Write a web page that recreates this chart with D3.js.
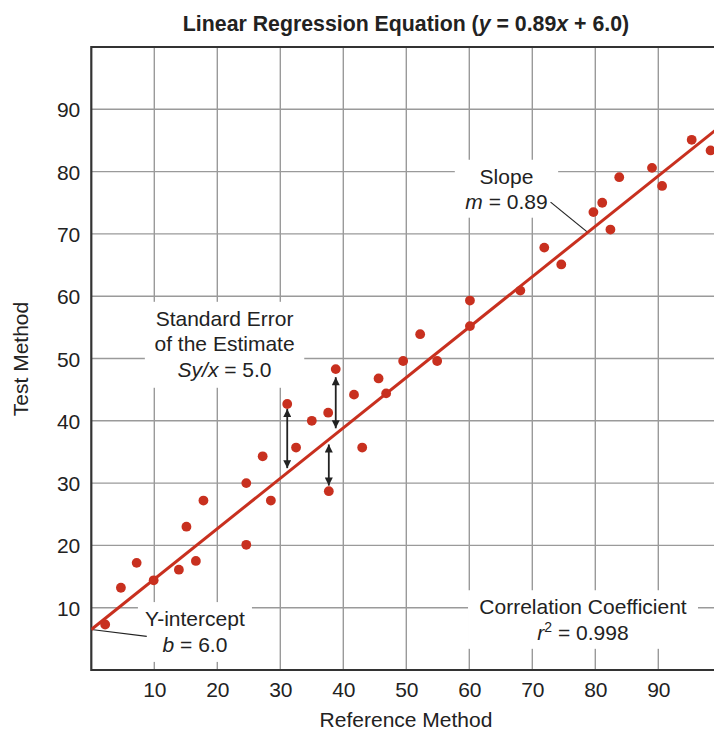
<!DOCTYPE html>
<html>
<head>
<meta charset="utf-8">
<script src="https://cdn.jsdelivr.net/npm/d3@7"></script>
<style>
  html, body { margin: 0; padding: 0; background: #fff; }
  svg { display: block; font-family: "Liberation Sans", Arial, Helvetica, sans-serif; }
</style>
</head>
<body>
<div id="chart"></div>
<script>
// ---- data ----
const refX = [2.2, 4.7, 7.2, 9.9, 13.9, 15.1, 16.6, 17.8, 24.6, 24.6, 27.2, 28.5, 31.1, 32.5, 35.0, 37.6, 37.7, 38.8, 41.7, 43.0, 45.6, 46.8, 49.5, 52.2, 54.9, 60.1, 60.1, 68.1, 71.9, 74.6, 79.7, 81.1, 82.4, 83.8, 89.0, 90.6, 95.3, 98.3];
const testY = [7.3, 13.2, 17.2, 14.4, 16.1, 23.0, 17.5, 27.2, 30.0, 20.1, 34.3, 27.2, 42.7, 35.7, 40.0, 41.3, 28.7, 48.3, 44.2, 35.7, 46.8, 44.4, 49.6, 53.9, 49.6, 59.3, 55.2, 60.9, 67.8, 65.1, 73.5, 75.0, 70.7, 79.1, 80.6, 77.7, 85.1, 83.4];
const xTicks = [10, 20, 30, 40, 50, 60, 70, 80, 90];
const yTicks = [10, 20, 30, 40, 50, 60, 70, 80, 90];
// regression line as drawn (endpoints, data units)
const fitX = [0, 100];
const fitY = [6.5, 87.4];
// residual arrows: x, y from, y to
const arrowX = [31.1, 38.8, 37.7];
const arrowY1 = [41.9, 47.0, 36.2];
const arrowY2 = [32.4, 38.8, 29.6];

const titleText = "Linear Regression Equation";
const xTitle = "Reference Method";
const yTitle = "Test Method";

// ---- layout ----
const W = 714, H = 730;
const x = d3.scaleLinear().domain([0, 100]).range([91.3, 721.3]);
const y = d3.scaleLinear().domain([0, 100]).range([670, 47]);
const RED = "#c8301f";
const INK = "#222";
const FS = 21;

const svg = d3.select("#chart").append("svg").attr("width", W).attr("height", H);

svg.append("defs").append("clipPath").attr("id", "plotclip")
  .append("rect").attr("x", x(0)).attr("y", y(100)).attr("width", x(100) - x(0)).attr("height", y(0) - y(100));

const marker = svg.select("defs").append("marker")
  .attr("id", "ah").attr("viewBox", "0 0 10 10").attr("refX", 10).attr("refY", 5)
  .attr("markerWidth", 11).attr("markerHeight", 8).attr("markerUnits", "userSpaceOnUse")
  .attr("orient", "auto-start-reverse");
marker.append("path").attr("d", "M0,0 L10,5 L0,10 Z").attr("fill", INK);

// grid
const grid = svg.append("g");
grid.selectAll("line.v").data(xTicks).join("line")
  .attr("x1", d => x(d)).attr("x2", d => x(d)).attr("y1", y(0)).attr("y2", y(100))
  .attr("stroke", "#9a9a9a").attr("stroke-width", 1.4);
grid.selectAll("line.h").data(yTicks).join("line")
  .attr("y1", d => y(d)).attr("y2", d => y(d)).attr("x1", x(0)).attr("x2", x(100))
  .attr("stroke", "#9a9a9a").attr("stroke-width", 1.4);

// annotation boxes (white backgrounds) in data units: x0, x1, yTop, yBottom
const boxes = [
  { x0: 57.7, x1: 74.1, yt: 81.9, yb: 72.6, lines: [["Slope"], [["m", true], [" = 0.89", false]]] },
  { x0: 8.5, x1: 33.8, yt: 59.1, yb: 45.3, lines: [["Standard Error"], ["of the Estimate"], [["Sy/x", true], [" = 5.0", false]]] },
  { x0: 7.4, x1: 25.5, yt: 10.9, yb: 1.3, lines: [["Y-intercept"], [["b", true], [" = 6.0", false]]] },
  { x0: 59.8, x1: 96.3, yt: 12.8, yb: 3.4, lines: [["Correlation Coefficient"], [["r", true], ["2", "sup"], [" = 0.998", false]]] }
];

const ann = svg.append("g");
boxes.forEach(b => {
  ann.append("rect").attr("x", x(b.x0)).attr("y", y(b.yt))
    .attr("width", x(b.x1) - x(b.x0)).attr("height", y(b.yb) - y(b.yt)).attr("fill", "#fff");
});

// frame
const frame = svg.append("g").attr("fill", "none").attr("stroke", "#333").attr("stroke-width", 2.2);
frame.append("line").attr("x1", x(0)).attr("x2", x(0)).attr("y1", y(0) + 1).attr("y2", y(100) - 1);
frame.append("line").attr("x1", x(0)).attr("x2", x(100)).attr("y1", y(0)).attr("y2", y(0));
frame.append("line").attr("x1", x(0)).attr("x2", x(100)).attr("y1", y(100)).attr("y2", y(100));
frame.append("line").attr("x1", x(100)).attr("x2", x(100)).attr("y1", y(0)).attr("y2", y(100));

// leader lines (data units)
const leaders = [
  { xa: 72.9, ya: 75.1, xb: 78.8, yb: 6.5 + 0.809 * 78.8 },
  { xa: 0, ya: 6.5, xb: 8.8, yb: 5.4 }
];
svg.append("g").selectAll("line").data(leaders).join("line")
  .attr("x1", d => x(d.xa)).attr("y1", d => y(d.ya)).attr("x2", d => x(d.xb)).attr("y2", d => y(d.yb))
  .attr("stroke", INK).attr("stroke-width", 1.2);

// annotation texts
boxes.forEach(b => {
  const cx = (x(b.x0) + x(b.x1)) / 2;
  const top = y(b.yt);
  b.lines.forEach((ln, i) => {
    const t = ann.append("text").attr("x", cx).attr("y", top + 24 + i * 25.5)
      .attr("text-anchor", "middle").attr("font-size", FS).attr("fill", INK);
    if (typeof ln[0] === "string") {
      t.text(ln[0]);
    } else {
      ln.forEach(seg => {
        const ts = t.append("tspan").text(seg[0]);
        if (seg[1] === true) ts.attr("font-style", "italic");
        if (seg[1] === "sup") ts.attr("font-size", 14).attr("baseline-shift", "super");
      });
    }
  });
});

// regression line
const plot = svg.append("g").attr("clip-path", "url(#plotclip)");
plot.append("line")
  .attr("x1", x(fitX[0])).attr("y1", y(fitY[0])).attr("x2", x(fitX[1])).attr("y2", y(fitY[1]))
  .attr("stroke", RED).attr("stroke-width", 3);

// residual arrows
svg.append("g").selectAll("line").data(arrowX).join("line")
  .attr("x1", d => x(d)).attr("x2", d => x(d))
  .attr("y1", (d, i) => y(arrowY1[i])).attr("y2", (d, i) => y(arrowY2[i]))
  .attr("stroke", INK).attr("stroke-width", 1.8)
  .attr("marker-start", "url(#ah)").attr("marker-end", "url(#ah)");

// points
plot.selectAll("circle").data(refX).join("circle")
  .attr("cx", d => x(d)).attr("cy", (d, i) => y(testY[i])).attr("r", 4.9).attr("fill", RED);

// axes tick labels
const xAxis = d3.axisBottom(x).tickValues(xTicks).tickSize(0).tickPadding(0);
const gx = svg.append("g").attr("transform", `translate(0,${y(0)})`).call(xAxis);
gx.select(".domain").remove();
gx.selectAll("text").attr("font-size", FS).attr("fill", INK).attr("font-family", null)
  .attr("dy", null).attr("y", 27);

const yAxis = d3.axisLeft(y).tickValues(yTicks).tickSize(0).tickPadding(0);
const gy = svg.append("g").attr("transform", `translate(${x(0)},0)`).call(yAxis);
gy.select(".domain").remove();
gy.selectAll("text").attr("font-size", FS).attr("fill", INK).attr("font-family", null)
  .attr("x", -11).attr("dy", "0.36em");

// titles
const tt = svg.append("text").attr("x", 406).attr("y", 31).attr("text-anchor", "middle")
  .attr("font-size", 21.3).attr("font-weight", "bold").attr("fill", INK);
tt.append("tspan").text(titleText + " (");
tt.append("tspan").text("y").attr("font-style", "italic");
tt.append("tspan").text(" = 0.89");
tt.append("tspan").text("x").attr("font-style", "italic");
tt.append("tspan").text(" + 6.0)");

svg.append("text").attr("x", 406).attr("y", 727).attr("text-anchor", "middle")
  .attr("font-size", FS).attr("fill", INK).text(xTitle);

svg.append("text").attr("transform", "translate(28,359) rotate(-90)").attr("text-anchor", "middle")
  .attr("font-size", FS).attr("fill", INK).text(yTitle);
</script>
</body>
</html>
